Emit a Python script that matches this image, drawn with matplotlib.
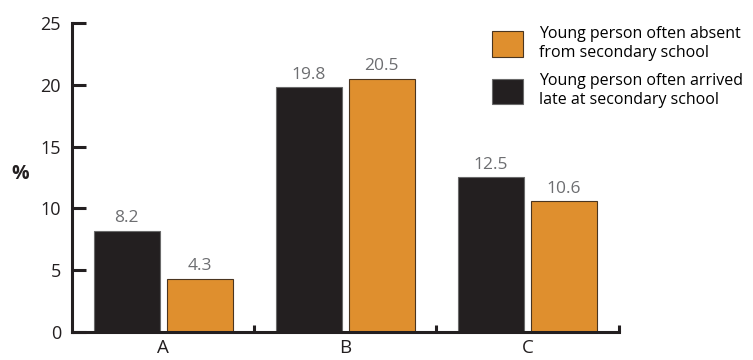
import matplotlib
matplotlib.use("Agg")
import matplotlib.pyplot as plt
import numpy as np

plt.rcParams['font.family'] = ['Open Sans', 'DejaVu Sans']

categories = ["A", "B", "C"]
late_values = [8.2, 19.8, 12.5]
absent_values = [4.3, 20.5, 10.6]
late_label = "Young person often arrived\nlate at secondary school"
absent_label = "Young person often absent\nfrom secondary school"

black = "#231f20"
orange = "#df8f2e"

fig = plt.figure(figsize=(7.53, 3.6), dpi=100)
ax = fig.add_axes([0.0956, 0.078, 0.726, 0.858])

x = np.arange(len(categories))
w = 0.362
b1 = ax.bar(x - 0.2, late_values, width=w, color=black, edgecolor="#6a6a6a",
            linewidth=0.8, label=late_label)
b2 = ax.bar(x + 0.2, absent_values, width=w, color=orange, edgecolor="#4a3520",
            linewidth=0.8, label=absent_label)

for bars, vals in ((b1, late_values), (b2, absent_values)):
    for r, v in zip(bars, vals):
        ax.text(r.get_x() + r.get_width() / 2, v + 0.35, f"{v:.1f}",
                ha="center", va="bottom", fontsize=12.5, color="#6d6e71")

ax.set_xlim(-0.5, 2.5)
ax.set_ylim(0, 25)
ax.set_yticks([0, 5, 10, 15, 20, 25])
ax.set_xticks(x)
ax.set_xticklabels(categories)
ax.set_xticks([0.5, 1.5, 2.5], minor=True)

ax.tick_params(axis="y", direction="in", length=10, width=2.2, labelsize=13,
               pad=8, colors=black, labelcolor=black)
ax.tick_params(axis="x", which="major", length=0, labelsize=13.5, pad=5,
               labelcolor=black)
ax.tick_params(axis="x", which="minor", direction="in", length=5, width=2.2,
               color=black)

for s in ("top", "right"):
    ax.spines[s].set_visible(False)
for s in ("left", "bottom"):
    ax.spines[s].set_linewidth(2.2)
    ax.spines[s].set_color(black)

ax.set_ylabel("%", rotation=0, fontsize=14, fontweight="bold", color=black,
              labelpad=14, va="center")
ax.yaxis.set_label_coords(-0.095, 0.51)

handles = [b2, b1]
ax.legend(handles, [absent_label, late_label], loc="upper left",
          bbox_to_anchor=(0.768, 0.99), frameon=False, fontsize=11.5,
          handlelength=1.95, handleheight=2.1, handletextpad=1.0,
          labelspacing=0.8, borderaxespad=0, borderpad=0)

fig.savefig("out.png", dpi=100)
